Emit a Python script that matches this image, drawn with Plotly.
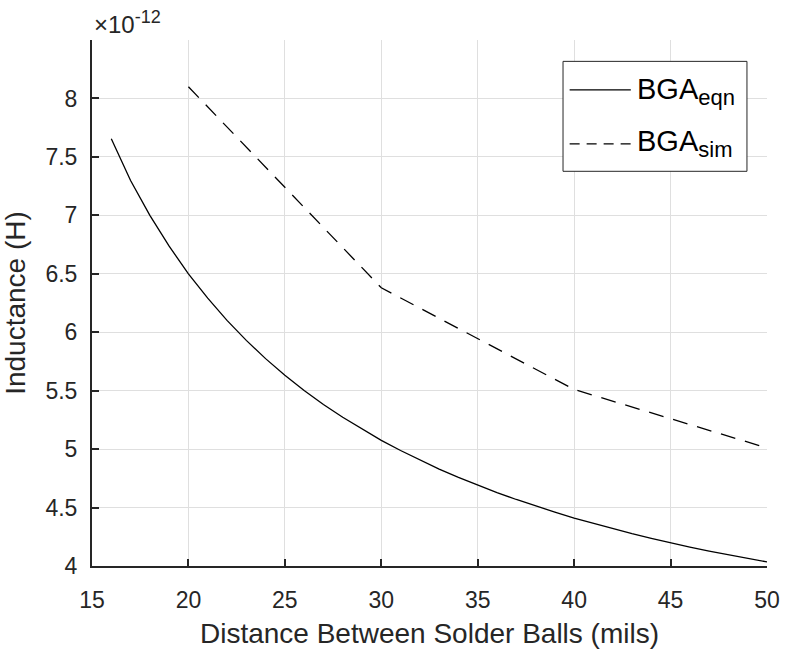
import plotly.graph_objects as go

# ---------------- data (inductance in units of 1e-12 H) ----------------
x_ticks = [15, 20, 25, 30, 35, 40, 45, 50]
y_ticks = [4, 4.5, 5, 5.5, 6, 6.5, 7, 7.5, 8]
y_tick_labels = ["4", "4.5", "5", "5.5", "6", "6.5", "7", "7.5", "8"]
y_exponent = -12

dist_eqn = [16, 17, 18, 19, 20, 21, 22, 23, 24, 25, 26, 27, 28, 29, 30, 31, 32, 33,
            34, 35, 36, 37, 38, 39, 40, 41, 42, 43, 44, 45, 46, 47, 48, 49, 50]
ind_eqn = [7.655, 7.298, 7.000, 6.736, 6.500, 6.291, 6.101, 5.930, 5.774, 5.631,
           5.502, 5.382, 5.272, 5.170, 5.075, 4.988, 4.906, 4.829, 4.758, 4.690,
           4.628, 4.569, 4.513, 4.461, 4.410, 4.364, 4.319, 4.277, 4.237, 4.198,
           4.162, 4.128, 4.095, 4.063, 4.035]

dist_sim = [20, 30, 40, 50]
ind_sim = [8.10, 6.38, 5.51, 5.01]

series_base = ["BGA", "BGA"]
series_subs = ["eqn", "sim"]
x_title = "Distance Between Solder Balls (mils)"
y_title = "Inductance (H)"

# ---------------- styling ----------------
FONT = "Liberation Sans, Arial, Helvetica, sans-serif"
INK = "#262626"
GRID = "#dfdfdf"
DASH = "15px,10px"

series_names = ["%s<sub><span style='font-size:22px'>%s</span></sub>" % (b, s)
                for b, s in zip(series_base, series_subs)]

fig = go.Figure()
fig.add_trace(go.Scatter(x=dist_eqn, y=ind_eqn, mode="lines", name=series_names[0],
                         line=dict(color="black", width=1.3), showlegend=False))
fig.add_trace(go.Scatter(x=dist_sim, y=ind_sim, mode="lines", name=series_names[1],
                         line=dict(color="black", width=1.3, dash=DASH), showlegend=False))

# plot area in pixels: x 92..776, y 40..574
L, R, T, B = 92, 16, 40, 82
W, H = 792, 656
PW, PH = W - L - R, H - T - B


def px(xp):
    return (xp - L) / PW


def py(yp):
    return (H - B - yp) / PH


shapes = [
    dict(type="rect", xref="paper", yref="paper", x0=px(569.3), x1=px(755.7),
         y0=py(173.3), y1=py(61.7), line=dict(color=INK, width=1), fillcolor="white",
         layer="above"),
    dict(type="line", xref="paper", yref="paper", x0=px(576), x1=px(638),
         y0=py(90.7), y1=py(90.7), line=dict(color="black", width=1.3)),
    dict(type="line", xref="paper", yref="paper", x0=px(576), x1=px(638),
         y0=py(145.5), y1=py(145.5), line=dict(color="black", width=1.3, dash="10px,7px")),
]

annotations = [
    dict(text=series_names[0], xref="paper", yref="paper", x=px(642), y=py(92),
         xanchor="left", yanchor="middle", showarrow=False,
         font=dict(family=FONT, size=29, color="black")),
    dict(text=series_names[1], xref="paper", yref="paper", x=px(642), y=py(145),
         xanchor="left", yanchor="middle", showarrow=False,
         font=dict(family=FONT, size=29, color="black")),
    dict(text="×10<sup><span style='font-size:18px'>%d</span></sup>" % y_exponent,
         xref="paper", yref="paper", x=px(92),
         y=py(40), xanchor="left", yanchor="bottom", showarrow=False,
         font=dict(family=FONT, size=24, color=INK)),
]

axis_common = dict(
    ticks="inside", ticklen=7, tickwidth=2, tickcolor=INK,
    showline=True, linewidth=2, linecolor=INK, mirror=False,
    showgrid=True, gridcolor=GRID, gridwidth=1, zeroline=False,
    tickfont=dict(family=FONT, size=23, color=INK),
)

fig.update_layout(
    width=W, height=H,
    margin=dict(l=L, r=R, t=T, b=B, pad=0),
    paper_bgcolor="white", plot_bgcolor="white",
    font=dict(family=FONT, color=INK),
    xaxis=dict(range=[15, 50], tickvals=x_ticks, ticklabelstandoff=12,
               title=dict(text=x_title, font=dict(family=FONT, size=28, color=INK),
                          standoff=12),
               **axis_common),
    yaxis=dict(range=[4, 8.5], tickvals=y_ticks, ticktext=y_tick_labels,
               ticklabelstandoff=8,
               title=dict(text=y_title, font=dict(family=FONT, size=28, color=INK),
                          standoff=14),
               **axis_common),
    shapes=shapes,
    annotations=annotations,
)

fig.write_html("out.html")
